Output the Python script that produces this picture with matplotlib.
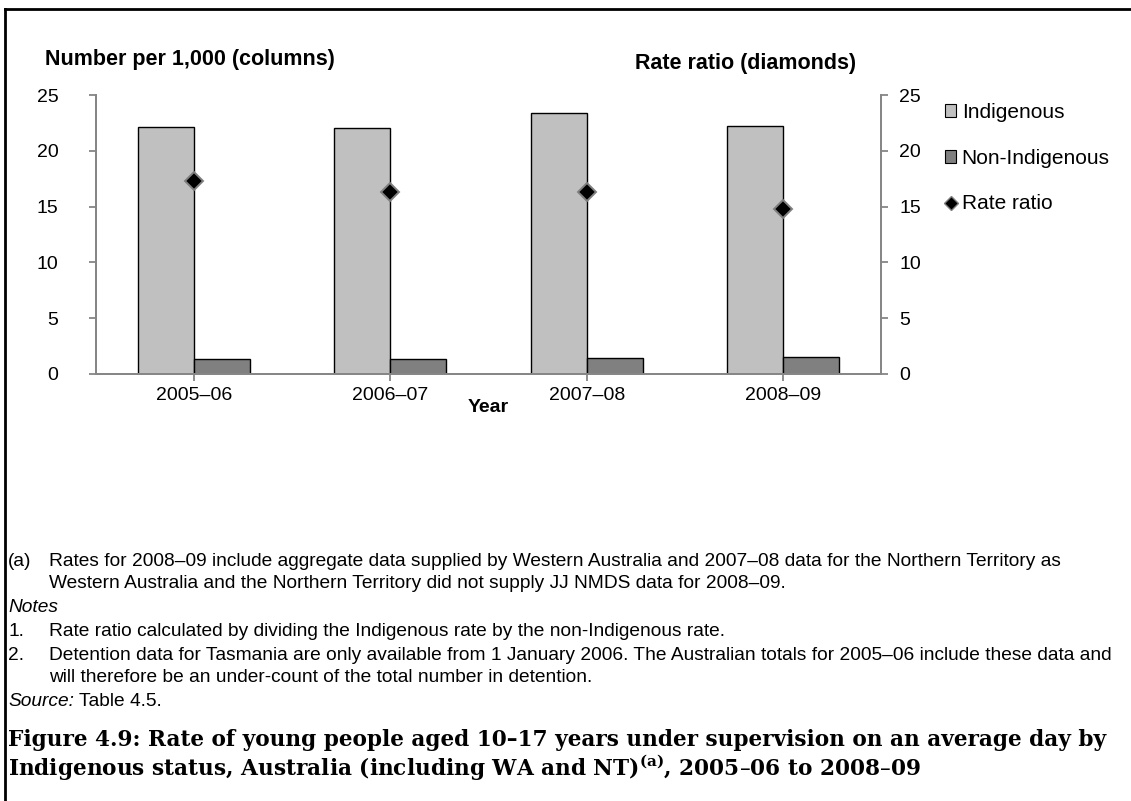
import numpy as np
import matplotlib
matplotlib.use('Agg')
import matplotlib.pyplot as plt
from matplotlib.lines import Line2D
from matplotlib.patches import Patch
from matplotlib.text import Annotation

years = ['2005–06', '2006–07', '2007–08', '2008–09']
indigenous = [22.1, 22.0, 23.4, 22.2]
non_indigenous = [1.3, 1.35, 1.45, 1.5]
rate_ratio = [17.3, 16.3, 16.3, 14.8]

W, H = 1131, 801
plt.rcParams['font.family'] = ['Liberation Sans', 'DejaVu Sans']

fig = plt.figure(figsize=(W / 100, H / 100), dpi=100)

def fx(px):
    return px / W

def fy(py):
    return 1 - py / H

gray = '#868686'

ax = fig.add_axes([fx(96), fy(374), fx(881) - fx(96), fy(95) - fy(374)])
x = np.arange(len(years))
bw = 0.285
ax.bar(x - bw / 2, indigenous, bw, color='#C0C0C0', edgecolor='black', linewidth=1, zorder=2)
ax.bar(x + bw / 2, non_indigenous, bw, color='#808080', edgecolor='black', linewidth=1, zorder=2)
ax.set_xlim(-0.5, 3.5)
ax.set_ylim(0, 25)
ax.set_yticks(range(0, 26, 5))
ax.set_xticks(x)
ax.set_xticklabels(years)

ax2 = ax.twinx()
ax2.plot(x, rate_ratio, linestyle='none', marker='D', markersize=9,
         markerfacecolor='black', markeredgecolor='#7f7f7f', markeredgewidth=1.4, zorder=3)
ax2.set_ylim(0, 25)
ax2.set_yticks(range(0, 26, 5))

for a in (ax, ax2):
    a.spines['top'].set_visible(False)
    for s in ('left', 'right', 'bottom'):
        a.spines[s].set_color(gray)
        a.spines[s].set_linewidth(1.3)
    a.tick_params(axis='both', colors=gray, labelcolor='black', labelsize=14,
                  length=5, width=1.3, direction='out')
ax.tick_params(axis='y', pad=22)
ax2.tick_params(axis='y', pad=8)
ax.tick_params(axis='x', pad=4)

fig.text(fx(45), fy(59), 'Number per 1,000 (columns)', fontsize=15.5, fontweight='bold',
         ha='left', va='center')
fig.text(fx(856), fy(63), 'Rate ratio (diamonds)', fontsize=15.5, fontweight='bold',
         ha='right', va='center')
fig.text(fx(488), fy(408), 'Year', fontsize=14, fontweight='bold', ha='center', va='center')

handles = [Patch(facecolor='#C0C0C0', edgecolor='black', linewidth=0.8),
           Patch(facecolor='#808080', edgecolor='black', linewidth=0.8),
           Line2D([], [], linestyle='none', marker='D', markersize=7,
                  markerfacecolor='black', markeredgecolor='#7f7f7f')]
fig.legend(handles, ['Indigenous', 'Non-Indigenous', 'Rate ratio'],
           loc='upper left', bbox_to_anchor=(fx(945), fy(103)), frameon=False,
           fontsize=15, handlelength=0.55, handleheight=0.55, handletextpad=0.25,
           labelspacing=1.28, borderaxespad=0, borderpad=0)

fs = 13.8
fig.text(fx(8), fy(562), '(a)', fontsize=fs, va='center')
fig.text(fx(49), fy(562), 'Rates for 2008–09 include aggregate data supplied by Western Australia '
         'and 2007–08 data for the Northern Territory as', fontsize=fs, va='center')
fig.text(fx(49), fy(583), 'Western Australia and the Northern Territory did not supply JJ NMDS '
         'data for 2008–09.', fontsize=fs, va='center')
fig.text(fx(8), fy(607), 'Notes', fontsize=fs, style='italic', va='center')
fig.text(fx(8), fy(631), '1.', fontsize=fs, va='center')
fig.text(fx(49), fy(631), 'Rate ratio calculated by dividing the Indigenous rate by the '
         'non-Indigenous rate.', fontsize=fs, va='center')
fig.text(fx(8), fy(655), '2.', fontsize=fs, va='center')
fig.text(fx(49), fy(655), 'Detention data for Tasmania are only available from 1 January 2006. '
         'The Australian totals for 2005–06 include these data and', fontsize=fs, va='center')
fig.text(fx(49), fy(677), 'will therefore be an under-count of the total number in detention.',
         fontsize=fs, va='center')
src = fig.text(fx(8), fy(701), 'Source:', fontsize=fs, style='italic', va='center')
fig.add_artist(Annotation(' Table 4.5.', xy=(1, 0.5), xycoords=src, va='center',
                          ha='left', fontsize=fs))

tfont = ['DejaVu Serif']
fig.text(fx(8), fy(740), 'Figure 4.9: Rate of young people aged 10–17 years under supervision '
         'on an average day by', fontsize=15.6, fontweight='bold', family=tfont, va='center')
fig.text(fx(8), fy(767), 'Indigenous status, Australia (including WA and NT)$^{\\mathregular{(a)}}$, '
         '2005–06 to 2008–09', fontsize=15.6, fontweight='bold', family=tfont, va='center')

fig.add_artist(Line2D([fx(5), fx(5)], [fy(9), 0], color='black', linewidth=2))
fig.add_artist(Line2D([fx(5), 1], [fy(9), fy(9)], color='black', linewidth=2))

fig.savefig('out.png', dpi=100)
